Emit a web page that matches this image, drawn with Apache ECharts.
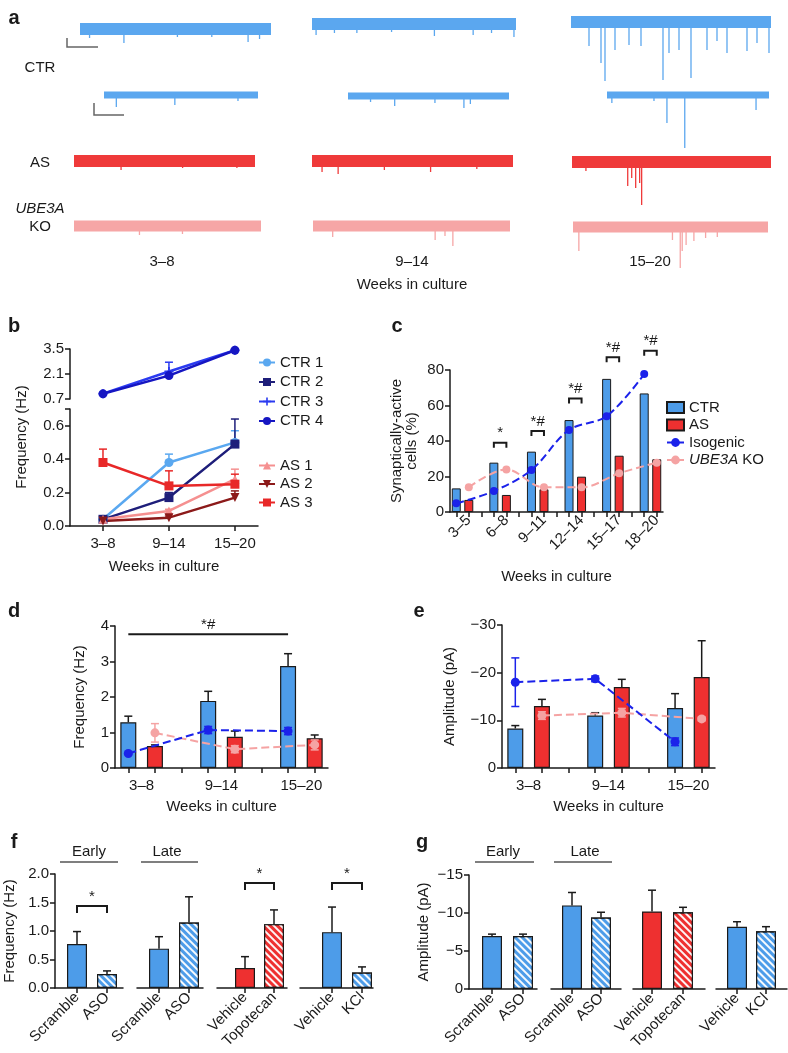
<!DOCTYPE html>
<html>
<head>
<meta charset="utf-8">
<script src="https://cdn.jsdelivr.net/npm/echarts@6/dist/echarts.min.js"></script>
<style>
html, body { margin: 0; padding: 0; background: #fff; }
#main { width: 788px; height: 1053px; }
</style>
</head>
<body>
<div id="main"></div>
<script>
// ---------- data ----------
// a: example traces, events as [position along trace 0-100, depth]
const weeksA = ['3–8', '9–14', '15–20'];
const ctrSlowSpikes = [
  [[5, 9], [23, 14], [51, 8], [69, 8], [88, 13], [94, 10]],
  [[2, 11], [11, 9], [22, 9], [39, 8], [60, 12], [79, 11], [88, 9], [99, 13]],
  [[9, 24], [15, 41], [17, 59], [22, 28], [29, 23], [35, 24], [46, 58], [49, 31], [54, 28], [60, 56], [68, 28], [73, 19], [78, 31], [88, 29], [93, 21], [99, 31]]
];
const ctrFastSpikes = [
  [[8, 12], [46, 10], [87, 6]],
  [[14, 6], [29, 10], [54, 7], [72, 12], [76, 8]],
  [[3, 8], [29, 6], [37, 28], [48, 53], [92, 15]]
];
const asSpikes = [
  [[26, 9], [60, 7], [90, 7]],
  [[5, 11], [13, 13], [36, 9], [59, 11], [82, 8]],
  [[7, 9], [28, 24], [30, 16], [32, 26], [34, 21], [35, 43]]
];
const koSpikes = [
  [[35, 9], [58, 8]],
  [[10, 11], [62, 14], [67, 10], [71, 20]],
  [[3, 24], [51, 13], [55, 41], [56, 24], [58, 18], [62, 14], [68, 11], [74, 10]]
];

// b: frequency per line
const weeksB = ['3–8', '9–14', '15–20'];
const ctr1 = [0.04, 0.38, 0.50], ctr1Err = [0.01, 0.05, 0.07];
const ctr2 = [0.04, 0.17, 0.49], ctr2Err = [0.01, 0.03, 0.15];
const ctr3 = [1.0, 2.24, 3.43], ctr3Err = [0.08, 0.52, 0.05];
const ctr4 = [0.99, 2.01, 3.43], ctr4Err = [0.05, 0.1, 0.05];
const as1 = [0.04, 0.09, 0.28], as1Err = [0.01, 0.01, 0.06];
const as2 = [0.03, 0.05, 0.17], as2Err = [0.01, 0.01, 0.04];
const as3 = [0.38, 0.24, 0.25], as3Err = [0.08, 0.09, 0.06];

// c: synaptically-active cells (%)
const weeksC = ['3–5', '6–8', '9–11', '12–14', '15–17', '18–20'];
const ctrC = [13.3, 27.8, 34, 51.8, 75, 66.8];
const asC = [6.8, 9.6, 12.8, 19.9, 31.7, 29.7];
const isoC = [4.9, 11.8, 23.7, 46.2, 54, 77.7];
const koC = [13.9, 24, 13.9, 13.9, 21.8, 27.8];
const sigC = ['', '*', '*#', '*#', '*#', '*#'];
const sigCY = [null, 39, 45.6, 64, 87.2, 90.9];

// d: frequency (Hz)
const weeksD = ['3–8', '9–14', '15–20'];
const ctrD = [1.29, 1.89, 2.87], ctrDErr = [0.17, 0.27, 0.35];
const asD = [0.62, 0.88, 0.84], asDErr = [0.03, 0.16, 0.09];
const isoD = [0.41, 1.07, 1.04], isoDErr = [0.03, 0.1, 0.1];
const koD = [0.99, 0.53, 0.65], koDErr = [0.26, 0.1, 0.14];
const sigD = '*#', sigDY = 3.77;

// e: amplitude (pA)
const ctrE = [-8.3, -11.0, -12.6], ctrEErr = [0.6, 0.6, 3.0];
const asE = [-13.0, -17.0, -19.1], asEErr = [1.4, 1.6, 7.6];
const isoE = [-18.0, -18.7, -5.5], isoEErr = [5.1, 0.6, 0.8];
const koE = [-11.0, -11.6, -10.3], koEErr = [0.8, 0.9, 0.4];

// f, g: treatments
const fgNames = [['Scramble', 'ASO'], ['Scramble', 'ASO'], ['Vehicle', 'Topotecan'], ['Vehicle', 'KCl']];
const fgRed = [false, false, true, false];
const fFreq = [[0.77, 0.245], [0.69, 1.15], [0.35, 1.12], [0.98, 0.27]];
const fFreqErr = [[0.22, 0.055], [0.21, 0.45], [0.20, 0.25], [0.44, 0.10]];
const fSig = ['*', '', '*', '*'];
const fSigY = [1.44, null, 1.84, 1.84];
const gAmp = [[-6.97, -6.97], [-11.0, -9.4], [-10.2, -10.1], [-8.2, -7.6]];
const gAmpErr = [[0.25, 0.25], [1.7, 0.7], [2.8, 0.65], [0.65, 0.6]];

// ---------- styles ----------
const FONT = '"Liberation Sans", Arial, sans-serif';
const INK = '#1a1a1a';
const BLUE = '#4d9ce9', RED = '#ee3030', ISO = '#1b22ea', KO = '#f5a3a3';
const lineS = { show: true, onZero: false, lineStyle: { color: INK, width: 1.5 } };
const tickS = { show: true, length: 5, lineStyle: { color: INK, width: 1.5 } };
const labelS = { color: INK, fontSize: 15, fontFamily: FONT, margin: 6 };
const nameS = { color: INK, fontSize: 15, fontFamily: FONT };
const hatch = { symbol: 'rect', symbolSize: 1, color: 'rgba(255,255,255,0.95)', dashArrayX: [1, 0], dashArrayY: [2, 2.5], rotation: Math.PI / 4 };
const minus = v => (v === 0 ? '0' : '−' + Math.abs(v));
const range = n => Array.from({ length: n }, (_, i) => i);

const grid = [], xAxis = [], yAxis = [], series = [], graphic = [];

function addGrid(g, xa, ya) {
  const i = grid.length;
  grid.push(g);
  xAxis.push(Object.assign({ gridIndex: i, splitLine: { show: false } }, xa));
  yAxis.push(Object.assign({ gridIndex: i, splitLine: { show: false } }, ya));
  return i;
}

function errSeries(gi, pts, color, both, dir) {
  // pts: [x, value, err]
  return {
    type: 'custom', xAxisIndex: gi, yAxisIndex: gi, clip: false, silent: true, z: 4,
    data: pts,
    renderItem: (params, api) => {
      const x = api.value(0), v = api.value(1), e = api.value(2);
      const top = api.coord([x, v + dir * e]);
      const bot = both ? api.coord([x, v - dir * e]) : api.coord([x, v]);
      const st = { stroke: color, lineWidth: 1.5 };
      const kids = [
        { type: 'line', shape: { x1: top[0], y1: top[1], x2: bot[0], y2: bot[1] }, style: st },
        { type: 'line', shape: { x1: top[0] - 4, y1: top[1], x2: top[0] + 4, y2: top[1] }, style: st }
      ];
      if (both) kids.push({ type: 'line', shape: { x1: bot[0] - 4, y1: bot[1], x2: bot[0] + 4, y2: bot[1] }, style: st });
      return { type: 'group', children: kids };
    }
  };
}

function bracketSeries(gi, items, leg) {
  return {
    type: 'custom', xAxisIndex: gi, yAxisIndex: gi, clip: false, silent: true, z: 5,
    data: items.map(it => [it.x0, it.y]),
    renderItem: (params, api) => {
      const it = items[params.dataIndex];
      const a = api.coord([it.x0, it.y]), b = api.coord([it.x1, it.y]);
      const pts = leg > 0 ? [[a[0], a[1] + leg], a, b, [b[0], b[1] + leg]] : [a, b];
      return {
        type: 'group', children: [
          { type: 'polyline', shape: { points: pts }, style: { stroke: INK, lineWidth: 2, fill: null } },
          { type: 'text', style: { text: it.text, x: (a[0] + b[0]) / 2, y: a[1] - 2, align: 'center', verticalAlign: 'bottom', font: '15px ' + FONT, fill: INK } }
        ]
      };
    }
  };
}

function text(t, x, y, opts) {
  graphic.push(Object.assign({ type: 'text', x: x, y: y, silent: true,
    style: Object.assign({ text: t, align: 'center', verticalAlign: 'middle', font: '15px ' + FONT, fill: INK }, (opts || {}).style) },
    opts && opts.rotation ? { rotation: opts.rotation } : {}));
}
function hline(x1, x2, y, color) {
  graphic.push({ type: 'line', silent: true, shape: { x1: x1, y1: y, x2: x2, y2: y }, style: { stroke: color || '#555', lineWidth: 1.3 } });
}

// ---------- panel a ----------
const traceRows = [
  { spikes: ctrSlowSpikes, color: '#5ba7ef', width: 12, boxes: [[80, 271, 29], [312, 516, 24], [571, 771, 22]] },
  { spikes: ctrFastSpikes, color: '#5ba7ef', width: 7, boxes: [[104, 258, 95], [348, 509, 96], [607, 769, 95]] },
  { spikes: asSpikes, color: '#ef3a3a', width: 12, boxes: [[74, 255, 161], [312, 513, 161], [572, 771, 162]] },
  { spikes: koSpikes, color: '#f6a6a6', width: 11, boxes: [[74, 261, 226], [313, 510, 226], [573, 768, 227]] }
];
traceRows.forEach(row => row.spikes.forEach((sp, c) => {
  const [x0, x1, cy] = row.boxes[c];
  const gi = addGrid({ left: x0, top: cy - 10, width: x1 - x0, height: 70 },
    { type: 'value', min: 0, max: 100, show: false },
    { type: 'value', min: -60, max: 10, show: false });
  series.push({ type: 'line', xAxisIndex: gi, yAxisIndex: gi, data: [[0, 0], [100, 0]], symbol: 'none', silent: true,
    lineStyle: { color: row.color, width: row.width, cap: 'butt' } });
  series.push({ type: 'custom', xAxisIndex: gi, yAxisIndex: gi, data: sp, silent: true, clip: false,
    renderItem: (params, api) => {
      const a = api.coord([api.value(0), 0]), b = api.coord([api.value(0), -api.value(1)]);
      return { type: 'line', shape: { x1: a[0], y1: a[1], x2: b[0], y2: b[1] }, style: { stroke: row.color, lineWidth: 1.3 } };
    } });
}));
// scale bars
graphic.push({ type: 'polyline', silent: true, shape: { points: [[67, 38], [67, 47], [98, 47]] }, style: { stroke: '#666', lineWidth: 1.5, fill: null } });
graphic.push({ type: 'polyline', silent: true, shape: { points: [[94, 103], [94, 115], [124, 115]] }, style: { stroke: '#666', lineWidth: 1.5, fill: null } });
text('CTR', 40, 68);
text('AS', 40, 163);
text('UBE3A', 40, 209, { style: { font: 'italic 15px ' + FONT } });
text('KO', 40, 227);
[162, 412, 650].forEach((x, i) => text(weeksA[i], x, 262));
text('Weeks in culture', 412, 285);

// ---------- panel b ----------
const gbT = addGrid({ left: 70, top: 349, width: 188, height: 50 },
  { type: 'value', min: -0.5, max: 2.35, show: false },
  { type: 'value', min: 0.7, max: 3.5, axisLine: lineS, axisTick: Object.assign({}, tickS, { customValues: [0.7, 2.1, 3.5] }),
    axisLabel: Object.assign({}, labelS, { customValues: [0.7, 2.1, 3.5], formatter: v => v.toFixed(1) }) });
const gbB = addGrid({ left: 70, top: 409, width: 188, height: 117 },
  { type: 'value', min: -0.5, max: 2.35, axisLine: lineS, axisTick: Object.assign({}, tickS, { customValues: [0, 1, 2] }),
    axisLabel: Object.assign({}, labelS, { margin: 10, customValues: [0, 1, 2], formatter: v => weeksB[Math.round(v)] }),
    name: 'Weeks in culture', nameLocation: 'middle', nameGap: 33, nameTextStyle: nameS },
  { type: 'value', min: 0, max: 0.7, axisLine: lineS, axisTick: Object.assign({}, tickS, { customValues: [0, 0.2, 0.4, 0.6, 0.7] }),
    axisLabel: Object.assign({}, labelS, { customValues: [0, 0.2, 0.4, 0.6], formatter: v => v.toFixed(1) }) });
text('Frequency (Hz)', 22, 437, { rotation: Math.PI / 2 });

const bLines = [
  ['CTR 1', ctr1, ctr1Err, '#5aa8f0', 'circle', gbB, 0],
  ['CTR 2', ctr2, ctr2Err, '#1e1e7a', 'rect', gbB, 0],
  ['CTR 3', ctr3, ctr3Err, '#2a3af0', 'path://M4,0H6V4H10V6H6V10H4V6H0V4H4Z', gbT, 0],
  ['CTR 4', ctr4, ctr4Err, '#1616c2', 'circle', gbT, 0],
  ['AS 1', as1, as1Err, '#f59090', 'triangle', gbB, 0],
  ['AS 2', as2, as2Err, '#8c1a1a', 'triangle', gbB, 180],
  ['AS 3', as3, as3Err, '#e82828', 'rect', gbB, 0]
];
bLines.forEach(([name, vals, errs, color, sym, gi, rot]) => {
  series.push(errSeries(gi, vals.map((v, i) => [i, v, errs[i]]), color, false, 1));
  series.push({ type: 'line', name: name, xAxisIndex: gi, yAxisIndex: gi, data: vals.map((v, i) => [i, v]),
    symbol: sym, symbolSize: 9, symbolRotate: rot, itemStyle: { color: color }, lineStyle: { color: color, width: 2.5 }, z: 5 });
});

// ---------- panel c ----------
const gc = addGrid({ left: 450, top: 370, width: 213, height: 142 },
  { type: 'value', min: -0.5, max: 16.5, axisLine: lineS, axisTick: Object.assign({}, tickS, { customValues: range(17) }),
    axisLabel: Object.assign({}, labelS, { rotate: 45, margin: 6, customValues: weeksC.map((w, g) => 3 * g + 1), formatter: v => weeksC[Math.round((v - 1) / 3)] }),
    name: 'Weeks in culture', nameLocation: 'middle', nameGap: 57, nameTextStyle: nameS },
  { type: 'value', min: 0, max: 80, interval: 20, axisLine: lineS, axisTick: tickS, axisLabel: labelS,
    name: 'Synaptically-active\ncells (%)', nameLocation: 'middle', nameGap: 31, nameTextStyle: Object.assign({}, nameS, { lineHeight: 15 }) });
series.push({ type: 'bar', name: 'CTR', xAxisIndex: gc, yAxisIndex: gc, barWidth: 9, barGap: '-100%', data: ctrC.map((v, g) => [3 * g, v]),
  itemStyle: { color: BLUE, borderColor: INK, borderWidth: 1 } });
series.push({ type: 'bar', name: 'AS', xAxisIndex: gc, yAxisIndex: gc, barWidth: 9, barGap: '-100%', data: asC.map((v, g) => [3 * g + 1, v]),
  itemStyle: { color: RED, borderColor: INK, borderWidth: 1 } });
series.push({ type: 'line', name: 'UBE3A KO', xAxisIndex: gc, yAxisIndex: gc, data: koC.map((v, g) => [3 * g + 1, v]), smooth: 0.35,
  symbol: 'circle', symbolSize: 8, itemStyle: { color: KO }, lineStyle: { color: KO, width: 2, type: 'dashed' }, z: 5 });
series.push({ type: 'line', name: 'Isogenic', xAxisIndex: gc, yAxisIndex: gc, data: isoC.map((v, g) => [3 * g, v]), smooth: 0.35,
  symbol: 'circle', symbolSize: 8, itemStyle: { color: ISO }, lineStyle: { color: ISO, width: 2, type: 'dashed' }, z: 6 });
series.push(bracketSeries(gc, weeksC.map((w, g) => ({ x0: 3 * g, x1: 3 * g + 1, y: sigCY[g], text: sigC[g] })).filter(it => it.y != null), 5));

// ---------- panel d ----------
const gd = addGrid({ left: 115, top: 626, width: 213, height: 142 },
  { type: 'value', min: -0.5, max: 7.5, axisLine: lineS, axisTick: Object.assign({}, tickS, { customValues: range(8) }),
    axisLabel: Object.assign({}, labelS, { margin: 10, customValues: [0.5, 3.5, 6.5], formatter: v => weeksD[Math.round((v - 0.5) / 3)] }),
    name: 'Weeks in culture', nameLocation: 'middle', nameGap: 31, nameTextStyle: nameS },
  { type: 'value', min: 0, max: 4, interval: 1, axisLine: lineS, axisTick: tickS, axisLabel: labelS,
    name: 'Frequency (Hz)', nameLocation: 'middle', nameGap: 28, nameTextStyle: nameS });
series.push(errSeries(gd, ctrD.map((v, g) => [3 * g, v, ctrDErr[g]]), INK, false, 1));
series.push(errSeries(gd, asD.map((v, g) => [3 * g + 1, v, asDErr[g]]), INK, false, 1));
series.push({ type: 'bar', xAxisIndex: gd, yAxisIndex: gd, barWidth: 16, barGap: '-100%', data: ctrD.map((v, g) => [3 * g, v]),
  itemStyle: { color: BLUE, borderColor: INK, borderWidth: 1.2 } });
series.push({ type: 'bar', xAxisIndex: gd, yAxisIndex: gd, barWidth: 16, barGap: '-100%', data: asD.map((v, g) => [3 * g + 1, v]),
  itemStyle: { color: RED, borderColor: INK, borderWidth: 1.2 } });
series.push({ type: 'line', xAxisIndex: gd, yAxisIndex: gd, data: koD.map((v, g) => [3 * g + 1, v]), symbol: 'circle', symbolSize: 9,
  itemStyle: { color: KO }, lineStyle: { color: KO, width: 2, type: 'dashed' }, z: 5 });
series.push(errSeries(gd, koD.map((v, g) => [3 * g + 1, v, koDErr[g]]), KO, true, 1));
series.push({ type: 'line', xAxisIndex: gd, yAxisIndex: gd, data: isoD.map((v, g) => [3 * g, v]), symbol: 'circle', symbolSize: 9,
  itemStyle: { color: ISO }, lineStyle: { color: ISO, width: 2, type: 'dashed' }, z: 6 });
series.push(errSeries(gd, isoD.map((v, g) => [3 * g, v, isoDErr[g]]), ISO, true, 1));
series.push(bracketSeries(gd, [{ x0: 0, x1: 6, y: sigDY, text: sigD }], 0));

// ---------- panel e ----------
const ge = addGrid({ left: 502, top: 625, width: 213, height: 143 },
  { type: 'value', min: -0.5, max: 7.5, axisLine: lineS, axisTick: Object.assign({}, tickS, { customValues: range(8) }),
    axisLabel: Object.assign({}, labelS, { margin: 10, customValues: [0.5, 3.5, 6.5], formatter: v => weeksD[Math.round((v - 0.5) / 3)] }),
    name: 'Weeks in culture', nameLocation: 'middle', nameGap: 31, nameTextStyle: nameS },
  { type: 'value', min: -30, max: 0, interval: 10, inverse: true, axisLine: lineS, axisTick: tickS,
    axisLabel: Object.assign({}, labelS, { formatter: minus }),
    name: 'Amplitude (pA)', nameLocation: 'middle', nameGap: 45, nameTextStyle: nameS });
series.push(errSeries(ge, ctrE.map((v, g) => [3 * g, v, ctrEErr[g]]), INK, false, -1));
series.push(errSeries(ge, asE.map((v, g) => [3 * g + 1, v, asEErr[g]]), INK, false, -1));
series.push({ type: 'bar', xAxisIndex: ge, yAxisIndex: ge, barWidth: 16, barGap: '-100%', data: ctrE.map((v, g) => [3 * g, v]),
  itemStyle: { color: BLUE, borderColor: INK, borderWidth: 1.2 } });
series.push({ type: 'bar', xAxisIndex: ge, yAxisIndex: ge, barWidth: 16, barGap: '-100%', data: asE.map((v, g) => [3 * g + 1, v]),
  itemStyle: { color: RED, borderColor: INK, borderWidth: 1.2 } });
series.push({ type: 'line', xAxisIndex: ge, yAxisIndex: ge, data: koE.map((v, g) => [3 * g + 1, v]), symbol: 'circle', symbolSize: 9,
  itemStyle: { color: KO }, lineStyle: { color: KO, width: 2, type: 'dashed' }, z: 5 });
series.push(errSeries(ge, koE.map((v, g) => [3 * g + 1, v, koEErr[g]]), KO, true, -1));
series.push({ type: 'line', xAxisIndex: ge, yAxisIndex: ge, data: isoE.map((v, g) => [3 * g, v]), symbol: 'circle', symbolSize: 9,
  itemStyle: { color: ISO }, lineStyle: { color: ISO, width: 2, type: 'dashed' }, z: 6 });
series.push(errSeries(ge, isoE.map((v, g) => [3 * g, v, isoEErr[g]]), ISO, true, -1));

// ---------- panels f, g ----------
const fSegs = [[55, 123, 77, 107], [137, 203, 159, 189], [217, 287, 245, 274], [300, 373, 332, 362]];
const gSegs = [[469, 537, 492, 523], [551, 621, 572, 601], [633, 705, 652, 683], [716, 787, 737, 766]];

function treatPanel(segs, top, vals, errs, yAx, dir, sig, sigY) {
  segs.forEach(([l, r, b0, b1], s) => {
    const span = b1 - b0;
    const ya = s === 0 ? yAx : { type: 'value', min: yAx.min, max: yAx.max, inverse: yAx.inverse, show: false };
    const gi = addGrid({ left: l, top: top, width: r - l, height: 114 },
      { type: 'value', min: -(b0 - l) / span, max: 1 + (r - b1) / span, axisLine: lineS,
        axisTick: Object.assign({}, tickS, { customValues: [0, 1] }),
        axisLabel: Object.assign({}, labelS, { rotate: 45, margin: 7, customValues: [0, 1], formatter: v => fgNames[s][Math.round(v)] }) },
      ya);
    const col = fgRed[s] ? RED : BLUE;
    series.push(errSeries(gi, vals[s].map((v, i) => [i, v, errs[s][i]]), INK, false, dir));
    series.push({ type: 'bar', xAxisIndex: gi, yAxisIndex: gi, barWidth: 20,
      data: vals[s].map((v, i) => ({ value: [i, v], itemStyle: { color: col, borderColor: INK, borderWidth: 1.2, decal: i === 1 ? hatch : null } })) });
    if (sig && sigY[s] != null) series.push(bracketSeries(gi, [{ x0: 0, x1: 1, y: sigY[s], text: sig[s] }], 7));
  });
}
treatPanel(fSegs, 874, fFreq, fFreqErr,
  { type: 'value', min: 0, max: 2, interval: 0.5, axisLine: lineS, axisTick: tickS,
    axisLabel: Object.assign({}, labelS, { formatter: v => v.toFixed(1) }),
    name: 'Frequency (Hz)', nameLocation: 'middle', nameGap: 38, nameTextStyle: nameS }, 1, fSig, fSigY);
treatPanel(gSegs, 875, gAmp, gAmpErr,
  { type: 'value', min: -15, max: 0, interval: 5, inverse: true, axisLine: lineS, axisTick: tickS,
    axisLabel: Object.assign({}, labelS, { formatter: minus }),
    name: 'Amplitude (pA)', nameLocation: 'middle', nameGap: 38, nameTextStyle: nameS }, -1, null, null);

text('Early', 89, 852); hline(60, 118, 862);
text('Late', 167, 852); hline(141, 198, 862);
text('Early', 503, 852); hline(475, 534, 862);
text('Late', 585, 852); hline(554, 612, 862);

// panel letters
[['a', 14, 18], ['b', 14, 326], ['c', 397, 326], ['d', 14, 611], ['e', 419, 611], ['f', 14, 842], ['g', 422, 842]]
  .forEach(([t, x, y]) => text(t, x, y, { style: { font: 'bold 20px ' + FONT } }));

const legendText = { color: INK, fontSize: 15, fontFamily: FONT, lineHeight: 14,
  rich: { i: { fontStyle: 'italic', fontSize: 15, fontFamily: FONT, color: INK, lineHeight: 14 } } };
const option = {
  animation: false,
  backgroundColor: '#fff',
  grid: grid, xAxis: xAxis, yAxis: yAxis, series: series, graphic: graphic,
  legend: [
    { data: ['CTR 1', 'CTR 2', 'CTR 3', 'CTR 4'], orient: 'vertical', left: 258, top: 355, padding: 0,
      itemWidth: 16, itemHeight: 10, itemGap: 4.5, textStyle: legendText },
    { data: ['AS 1', 'AS 2', 'AS 3'], orient: 'vertical', left: 258, top: 458, padding: 0,
      itemWidth: 16, itemHeight: 10, itemGap: 3.5, textStyle: legendText },
    { data: [{ name: 'CTR', icon: 'rect' }, { name: 'AS', icon: 'rect' }, 'Isogenic', 'UBE3A KO'], orient: 'vertical', left: 666, top: 400, padding: 0,
      itemWidth: 17, itemHeight: 11, itemGap: 2.5, textStyle: legendText,
      formatter: n => (n === 'UBE3A KO' ? '{i|UBE3A} KO' : n) }
  ]
};

const chart = echarts.init(document.getElementById('main'));
chart.setOption(option);
</script>
</body>
</html>
